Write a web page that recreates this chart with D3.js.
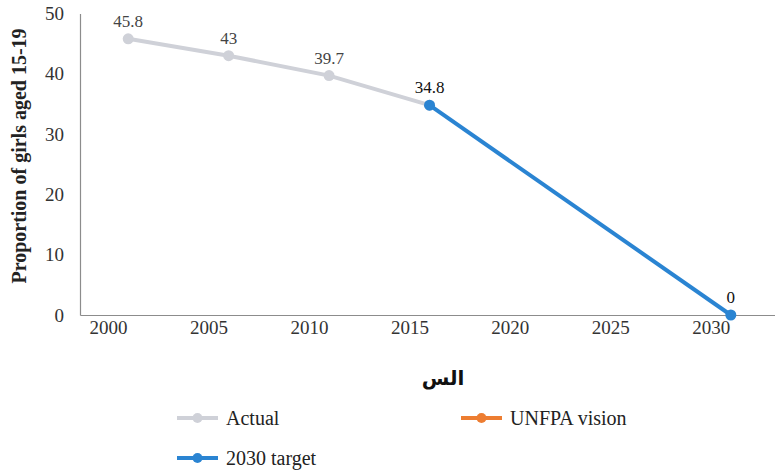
<!DOCTYPE html>
<html lang="en">
<head>
    <meta charset="UTF-8">
    <title>Proportion of girls aged 15-19</title>
    <script src="https://cdn.jsdelivr.net/npm/d3@7"></script>
    <style>
        body { margin: 0; background: #fff; }
        svg text { font-family: "Liberation Serif", "Times New Roman", serif; }
    </style>
</head>
<body>
    <div id="chart"></div>
    <script>
        // data
        const actualYears = [2001, 2006, 2011, 2016];
        const actualValues = [45.8, 43, 39.7, 34.8];
        const targetYears = [2016, 2031];
        const targetValues = [34.8, 0];
        const visionYears = [];
        const visionValues = [];
        const xTicks = [2000, 2005, 2010, 2015, 2020, 2025, 2030];
        const yTicks = [0, 10, 20, 30, 40, 50];

        const width = 775, height = 470;
        const svg = d3.select('#chart').append('svg')
            .attr('width', width)
            .attr('height', height);

        const x = d3.scaleLinear().domain([1998.6, 2033.2]).range([80, 775]);
        const y = d3.scaleLinear().domain([0, 50]).range([315, 13.5]);

        // axes
        const yAxis = svg.append('g')
            .attr('transform', 'translate(80,0)')
            .call(d3.axisLeft(y).tickValues(yTicks).tickSize(0).tickPadding(16));
        yAxis.select('.domain').attr('stroke', '#8c8c8c').attr('stroke-width', 1.2);
        yAxis.selectAll('text').attr('font-size', 19).attr('fill', '#333')
            .style('font-family', '"Liberation Serif", serif');

        const xAxis = svg.append('g')
            .attr('transform', 'translate(0,315)')
            .call(d3.axisBottom(x).tickValues(xTicks).tickFormat(d3.format('d')).tickSize(0).tickPadding(6));
        xAxis.select('.domain').attr('stroke', '#8c8c8c').attr('stroke-width', 1.2);
        xAxis.selectAll('text').attr('font-size', 19).attr('fill', '#333')
            .style('font-family', '"Liberation Serif", serif');

        // axis titles
        svg.append('text')
            .attr('transform', 'translate(26,156) rotate(-90)')
            .attr('text-anchor', 'middle')
            .attr('font-size', 20)
            .attr('font-weight', 'bold')
            .attr('fill', '#222')
            .text('Proportion of girls aged 15-19');

        svg.append('text')
            .attr('x', 443)
            .attr('y', 385)
            .attr('text-anchor', 'middle')
            .attr('font-size', 20)
            .attr('font-weight', 'bold')
            .attr('fill', '#111')
            .style('font-family', '"DejaVu Sans", sans-serif')
            .text('الس');

        const line = d3.line().x(d => x(d[0])).y(d => y(d[1]));

        const series = [
            { name: 'Actual', color: '#cfd1d8', years: actualYears, values: actualValues },
            { name: '2030 target', color: '#2a84d2', years: targetYears, values: targetValues },
            { name: 'UNFPA vision', color: '#ed7d31', years: visionYears, values: visionValues }
        ];

        series.forEach(s => {
            const pts = s.years.map((yr, i) => [yr, s.values[i]]);
            if (!pts.length) return;
            svg.append('path')
                .datum(pts)
                .attr('fill', 'none')
                .attr('stroke', s.color)
                .attr('stroke-width', 4)
                .attr('d', line);
            svg.append('g').selectAll('circle')
                .data(pts)
                .enter().append('circle')
                .attr('cx', d => x(d[0]))
                .attr('cy', d => y(d[1]))
                .attr('r', 5.5)
                .attr('fill', s.color);
        });

        // data labels (34.8 belongs to the target series, drawn once)
        const labels = actualYears.map((yr, i) => ({ yr, v: actualValues[i], c: i === 3 ? '#111' : '#444' }))
            .concat([{ yr: targetYears[1], v: targetValues[1], c: '#111' }]);
        svg.append('g').selectAll('text')
            .data(labels)
            .enter().append('text')
            .attr('x', d => x(d.yr))
            .attr('y', d => y(d.v) - 12)
            .attr('text-anchor', 'middle')
            .attr('font-size', 17)
            .attr('fill', d => d.c)
            .text(d => d.v);

        // legend
        const legend = [
            { name: 'Actual', color: '#cfd1d8', lx: 177, ly: 418 },
            { name: 'UNFPA vision', color: '#ed7d31', lx: 461, ly: 418 },
            { name: '2030 target', color: '#2a84d2', lx: 177, ly: 458 }
        ];
        const lg = svg.append('g').selectAll('g')
            .data(legend)
            .enter().append('g')
            .attr('transform', d => `translate(${d.lx},${d.ly})`);
        lg.append('line')
            .attr('x1', 0).attr('x2', 41)
            .attr('stroke', d => d.color)
            .attr('stroke-width', 4);
        lg.append('circle')
            .attr('cx', 20.5).attr('r', 5)
            .attr('fill', d => d.color);
        lg.append('text')
            .attr('x', 49)
            .attr('dy', '0.35em')
            .attr('font-size', 20)
            .attr('fill', '#222')
            .text(d => d.name);
    </script>
</body>
</html>
